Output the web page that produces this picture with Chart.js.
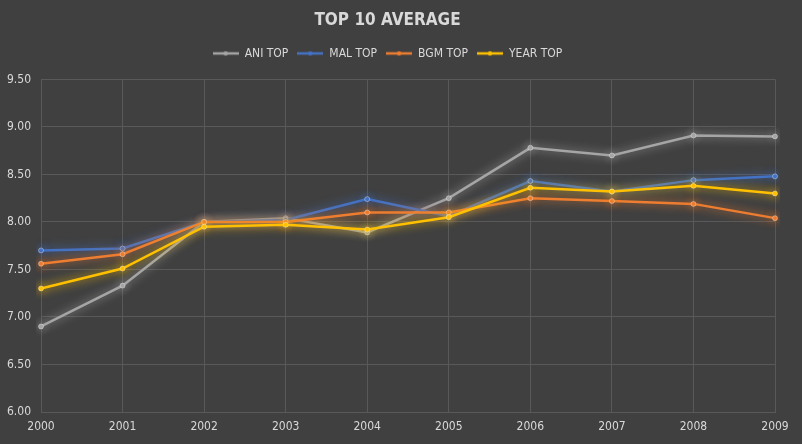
<!DOCTYPE html>
<html>
<head>
<meta charset="utf-8">
<script src="https://cdn.jsdelivr.net/npm/chart.js@4/dist/chart.umd.min.js"></script>
<style>
  html, body { margin: 0; padding: 0; background: #404040; }
  #wrap { width: 802px; height: 444px; position: relative; background: #404040; }
</style>
</head>
<body>
<div id="wrap"><canvas id="chart"></canvas></div>
<script>
  // values
  const YEARS = ['2000', '2001', '2002', '2003', '2004', '2005', '2006', '2007', '2008', '2009'];
  const ANI_TOP  = [6.90, 7.33, 8.00, 8.04, 7.89, 8.25, 8.78, 8.70, 8.91, 8.90];
  const MAL_TOP  = [7.70, 7.72, 8.00, 8.02, 8.24, 8.06, 8.43, 8.32, 8.44, 8.48];
  const BGM_TOP  = [7.56, 7.66, 8.00, 8.00, 8.10, 8.10, 8.25, 8.22, 8.19, 8.04];
  const YEAR_TOP = [7.30, 7.51, 7.95, 7.97, 7.92, 8.05, 8.36, 8.32, 8.38, 8.30];

  const GRAY   = '#A5A5A5';
  const BLUE   = '#4472C4';
  const ORANGE = '#ED7D31';
  const GOLD   = '#FFC000';
  const GRID   = '#595959';
  const TEXT   = '#D9D9D9';
  const FONT   = "'Liberation Sans Narrow', 'DejaVu Sans Condensed', 'Open Sans', sans-serif";

  // little line-with-dot marker for the legend
  function marker(color) {
    const c = document.createElement('canvas');
    c.width = 26; c.height = 8;
    const g = c.getContext('2d');
    g.strokeStyle = color; g.lineWidth = 2.5;
    g.beginPath(); g.moveTo(0, 4); g.lineTo(26, 4); g.stroke();
    g.fillStyle = color;
    g.beginPath(); g.arc(13, 4, 2.2, 0, Math.PI * 2); g.fill();
    return c;
  }

  // soft glow round every series, like the source chart
  const glow = {
    id: 'glow',
    beforeDatasetDraw(chart, args) {
      const ctx = chart.ctx;
      ctx.save();
      ctx.shadowColor = args.meta.dataset.options.borderColor;
      ctx.shadowBlur = 10;
    },
    afterDatasetDraw(chart) {
      chart.ctx.restore();
    },
  };

  // extra room under the legend
  const legendGap = {
    id: 'legendGap',
    beforeInit(chart) {
      const fit = chart.legend.fit;
      chart.legend.fit = function () {
        fit.call(this);
        this.height += 10;
      };
    },
  };

  function series(label, data, color, order) {
    return {
      label, data,
      borderColor: color,
      backgroundColor: color,
      pointBackgroundColor: color,
      pointBorderColor: 'rgba(255,255,255,0.35)',
      pointBorderWidth: 1,
      borderWidth: 2.5,
      pointRadius: 2.5,
      tension: 0,
      order,
    };
  }

  const markers = [marker(GRAY), marker(BLUE), marker(ORANGE), marker(GOLD)];

  new Chart(document.getElementById('chart'), {
    type: 'line',
    data: {
      labels: YEARS,
      datasets: [
        series('ANI TOP', ANI_TOP, GRAY, 4),
        series('MAL TOP', MAL_TOP, BLUE, 3),
        series('BGM TOP', BGM_TOP, ORANGE, 2),
        series('YEAR TOP', YEAR_TOP, GOLD, 1),
      ],
    },
    plugins: [glow, legendGap],
    options: {
      responsive: true,
      maintainAspectRatio: false,
      animation: false,
      layout: { padding: { left: 0, right: 27, top: 0, bottom: 0 } },
      plugins: {
        title: {
          display: true,
          text: 'TOP 10 AVERAGE',
          color: TEXT,
          font: { family: FONT, size: 17, weight: 'bold' },
          padding: { top: 10, bottom: 8 },
        },
        legend: {
          labels: {
            color: TEXT,
            font: { family: FONT, size: 12 },
            usePointStyle: true,
            pointStyleWidth: 26,
            boxHeight: 8,
            padding: 9,
            generateLabels(chart) {
              return chart.data.datasets.map((ds, i) => ({
                text: ds.label,
                fontColor: TEXT,
                pointStyle: markers[i],
                datasetIndex: i,
                hidden: !chart.isDatasetVisible(i),
                lineWidth: 0,
              }));
            },
          },
        },
        tooltip: { enabled: false },
      },
      scales: {
        x: {
          offset: false,
          grid: { color: GRID, drawTicks: false },
          border: { color: GRID },
          ticks: { color: TEXT, font: { family: FONT, size: 12 }, padding: 8, maxRotation: 0 },
          afterFit(s) { s.height = 32; },
        },
        y: {
          min: 6, max: 9.5,
          grid: { color: GRID, drawTicks: false },
          border: { display: false },
          ticks: {
            stepSize: 0.5,
            color: TEXT,
            font: { family: FONT, size: 12 },
            padding: 10,
            callback: (v) => v.toFixed(2),
          },
          afterFit(s) { s.width = 41; },
        },
      },
    },
  });
</script>
</body>
</html>
